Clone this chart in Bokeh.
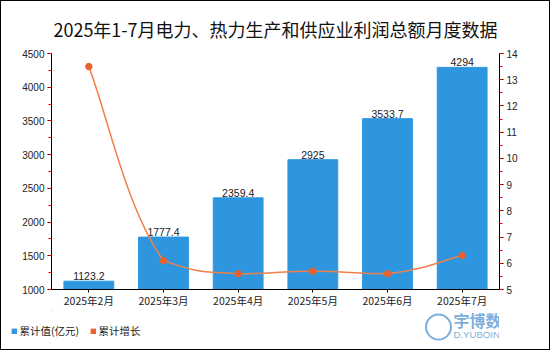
from bokeh.plotting import figure
from bokeh.layouts import column
from bokeh.models import (Range1d, LinearAxis, SingleIntervalTicker, FixedTicker,
                          Title, Label, Legend, LegendItem, ColumnDataSource)
from bokeh.core.properties import value
from bokeh.embed import file_html
from bokeh.resources import INLINE

title = "2025年1-7月电力、热力生产和供应业利润总额月度数据"
months = ["2025年2月", "2025年3月", "2025年4月", "2025年5月", "2025年6月", "2025年7月"]
cumulative = [1123.2, 1777.4, 2359.4, 2925, 3533.7, 4294]
cum_labels = ["1123.2", "1777.4", "2359.4", "2925", "3533.7", "4294"]
growth = [13.5, 6.1, 5.6, 5.7, 5.6, 6.3]
legend_names = ["累计值(亿元)", "累计增长"]
brand = ["宇博数据库", "D.YUBOINFO.COM"]

BAR = "#2E96DF"
LINE = "#F0804A"
DOT = "#E8622C"
MARK = "#7EAEDC"
CJK = "Noto Sans CJK SC"
LAT = "Liberation Sans"

FW = 448
FW2 = 498
H2 = 39

xs = [i + 0.5 for i in range(len(months))]

p = figure(frame_width=FW, frame_height=240, output_backend="svg", toolbar_location=None,
           x_range=Range1d(0, len(months)), y_range=Range1d(1000, 4500),
           min_border_left=50, min_border_right=50, min_border_top=49, min_border_bottom=20,
           x_axis_location=None, y_axis_location=None)
p.extra_y_ranges = {"y2": Range1d(5, 14)}
p.xgrid.grid_line_color = None
p.ygrid.grid_line_color = None
p.outline_line_color = None
p.background_fill_color = "white"
p.border_fill_color = "white"

def style_axis(ax):
    ax.axis_line_color = "black"
    ax.axis_line_width = 1
    ax.major_tick_line_color = "black"
    ax.major_tick_out = 4
    ax.major_tick_in = 0
    ax.minor_tick_line_color = "red"
    ax.minor_tick_out = 3
    ax.minor_tick_in = 0
    ax.major_label_text_font = LAT
    ax.major_label_text_font_size = "10px"
    ax.major_label_text_color = "#222222"
    ax.major_label_standoff = 3

yl = LinearAxis(ticker=SingleIntervalTicker(interval=500, num_minor_ticks=2))
style_axis(yl)
p.add_layout(yl, "left")

yr = LinearAxis(y_range_name="y2", ticker=SingleIntervalTicker(interval=1, num_minor_ticks=2))
style_axis(yr)
p.add_layout(yr, "right")

xa = LinearAxis(ticker=FixedTicker(ticks=xs, minor_ticks=[]))
style_axis(xa)
xa.major_tick_out = 3
xa.major_label_overrides = {x: m for x, m in zip(xs, months)}
xa.major_label_text_font = CJK
xa.major_label_text_font_size = "10.5px"
xa.major_label_standoff = 0
p.add_layout(xa, "below")

src = ColumnDataSource(dict(x=xs, y=cumulative, lab=cum_labels, g=growth))
p.vbar(x="x", top="y", bottom=1000, width=0.667, source=src, color=BAR)
p.text(x="x", y="y", text="lab", source=src, text_align="center", text_baseline="bottom",
       y_offset=-1, text_font=value(LAT), text_font_size="10.5px", text_color="#222222")

# smooth curve through the growth points (clamped cardinal bezier segments)
s = 0.25
n = len(xs)
x0, y0, x1, y1, cx0, cy0, cx1, cy1 = [], [], [], [], [], [], [], []
for i in range(n - 1):
    pa = (xs[max(i - 1, 0)], growth[max(i - 1, 0)])
    pb = (xs[i], growth[i])
    pc = (xs[i + 1], growth[i + 1])
    pd = (xs[min(i + 2, n - 1)], growth[min(i + 2, n - 1)])
    lo, hi = min(pb[1], pc[1]), max(pb[1], pc[1])
    x0.append(pb[0]); y0.append(pb[1]); x1.append(pc[0]); y1.append(pc[1])
    cx0.append(pb[0] + (pc[0] - pa[0]) * s)
    cy0.append(min(hi, max(lo, pb[1] + (pc[1] - pa[1]) * s)))
    cx1.append(pc[0] - (pd[0] - pb[0]) * s)
    cy1.append(min(hi, max(lo, pc[1] - (pd[1] - pb[1]) * s)))
p.bezier(x0=x0, y0=y0, x1=x1, y1=y1, cx0=cx0, cy0=cy0, cx1=cx1, cy1=cy1,
         line_color=LINE, line_width=1.5, y_range_name="y2")
p.scatter(x="x", y="g", source=src, size=6.5, color=DOT, y_range_name="y2")

p.add_layout(Title(text=title, align="center", text_font=CJK, text_font_size="18px",
                   text_font_style="normal", text_color="#111111", standoff=24), "above")

# bottom strip: legend and watermark (frame starts where the main plot's frame starts)
p2 = figure(frame_width=FW2, frame_height=H2, output_backend="svg", toolbar_location=None,
            x_range=Range1d(0, FW2), y_range=Range1d(H2, 0), min_border=0,
            x_axis_location=None, y_axis_location=None)
p2.xgrid.grid_line_color = None
p2.ygrid.grid_line_color = None
p2.outline_line_color = None
p2.background_fill_color = "white"
p2.border_fill_color = "white"

# legend swatch renderers (zero-size, outside the visible range)
r1 = p2.vbar(x=[-100], top=[0], bottom=[0], width=1, color=BAR)
r2 = p2.vbar(x=[-100], top=[0], bottom=[0], width=1, color=DOT)
for r, name, lx in ((r1, legend_names[0], 9.5), (r2, legend_names[1], 88.5)):
    lg = Legend(items=[LegendItem(label=name, renderers=[r])], location=(lx, 10),
                label_text_font=CJK, label_text_font_size="10.5px", label_text_color="#222222",
                glyph_width=6, glyph_height=6, label_standoff=3,
                padding=0, margin=0, border_line_color=None, background_fill_alpha=0)
    p2.add_layout(lg, "center")

# watermark
p2.scatter(x=[387], y=[17], marker="circle", size=25, fill_color=None,
           line_color=MARK, line_width=2)
p2.add_layout(Label(x=402, y=10, text=brand[0], text_align="left", text_baseline="middle",
                    text_font=CJK, text_font_size="16px", text_font_style="bold",
                    text_color=MARK))
p2.add_layout(Label(x=402, y=24.5, text=brand[1], text_align="left", text_baseline="middle",
                    text_font=LAT, text_font_size="9.6px", text_color=MARK))

lay = column(p, p2, width=550, height=350, spacing=0,
             styles={"border": "1px solid black", "box-sizing": "border-box"})

open("out.html", "w").write(file_html(lay, INLINE))
